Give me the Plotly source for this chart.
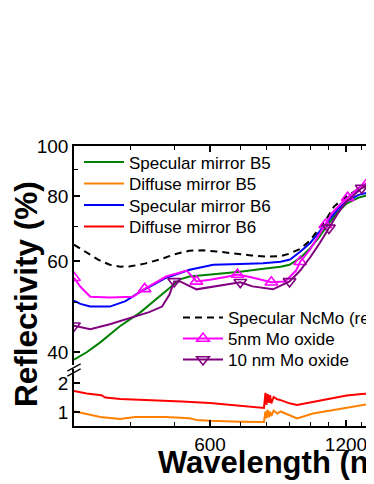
"""Reflectivity of mirror samples, broken y axis (log top, linear bottom)"""

import math

import plotly.graph_objects as go

# =========================================================
# Data
# =========================================================
ref_wl = [300, 320, 340, 360, 380, 400, 430, 465, 500, 540, 580, 620, 680, 740, 800, 860, 900, 950,
          1000, 1050, 1090, 1130, 1200, 1290, 1370, 1400]
ref_r = [64.5, 62.3, 60.3, 59.0, 58.5, 58.6, 59.3, 60.4, 61.8, 62.8, 62.9, 62.6, 62.0, 61.5, 61.2, 61.3,
         62.0, 63.3, 65.8, 69.5, 72.7, 76.5, 79.8, 83.0, 84.9, 85.3]

spec_b5_wl = [300, 320, 343, 379, 420, 465, 515, 540, 580, 620, 700, 780, 860, 900, 950, 1000, 1050, 1100,
              1150, 1200, 1280, 1370, 1400]
spec_b5_r = [38.7, 40.0, 41.8, 44.9, 47.7, 51.3, 55.3, 56.0, 56.3, 56.6, 57.2, 57.9, 58.5, 59.0, 60.8, 63.5,
             67.0, 71.0, 74.5, 77.3, 79.5, 80.8, 81.2]

spec_b6_wl = [300, 310, 326, 360, 390, 420, 450, 480, 541, 610, 700, 786, 860, 902, 950, 1000, 1050, 1100,
              1150, 1200, 1280, 1370, 1400]
spec_b6_r = [50.3, 49.6, 49.0, 49.0, 50.2, 52.3, 54.0, 55.7, 57.7, 59.0, 59.2, 59.4, 59.8, 60.4, 62.5, 65.0,
             68.5, 72.0, 75.5, 78.0, 80.5, 81.7, 82.0]

diff_b5_wl = [300, 326, 343, 379, 410, 480, 540, 560, 600, 700, 790, 796, 800, 805, 810, 815, 820, 830, 845,
              860, 900, 935, 1014, 1100, 1204, 1300, 1380, 1400]
diff_b5_r = [1.03, 0.90, 0.83, 0.76, 0.83, 0.83, 0.79, 0.73, 0.70, 0.67, 0.66, 1.02, 0.78, 1.08, 0.82, 1.02,
             0.86, 1.05, 0.95, 1.02, 0.88, 0.78, 0.95, 1.05, 1.16, 1.24, 1.31, 1.32]

diff_b6_wl = [300, 320, 345, 352, 380, 450, 520, 600, 700, 790, 796, 800, 805, 810, 815, 820, 830, 845, 860,
              900, 935, 1014, 1100, 1204, 1300, 1380, 1400]
diff_b6_r = [1.72, 1.64, 1.58, 1.50, 1.45, 1.41, 1.36, 1.31, 1.22, 1.14, 1.66, 1.25, 1.62, 1.32, 1.58, 1.30,
             1.52, 1.44, 1.41, 1.30, 1.24, 1.34, 1.45, 1.57, 1.62, 1.66, 1.66]

mo5_wl = [300, 310, 326, 360, 405, 430, 480, 533, 560, 600, 650, 690, 740, 790, 820, 880, 930, 950, 1000,
          1040, 1080, 1120, 1180, 1210, 1290, 1340, 1400]
mo5_r = [55.7, 53.5, 51.2, 51.0, 51.2, 53.0, 56.0, 57.5, 54.8, 55.2, 55.9, 56.5, 55.8, 55.0, 54.6, 54.8,
         57.5, 59.8, 63.2, 66.8, 70.5, 74.5, 78.0, 79.5, 83.5, 84.9, 85.5]
mo5_marker_wl = [300, 430, 560, 690, 820, 950, 1080, 1210, 1340]

mo10_wl = [300, 326, 360, 405, 440, 470, 488, 500, 515, 560, 609, 700, 745, 827, 900, 950, 1000, 1050, 1100,
           1150, 1200, 1300, 1400]
mo10_r = [45.0, 44.3, 45.3, 46.7, 47.8, 49.0, 51.7, 54.8, 54.8, 52.9, 53.6, 54.6, 53.6, 52.9, 54.8, 57.5,
          61.0, 65.0, 69.5, 74.0, 78.0, 83.0, 84.5]
mo10_marker_wl = [300, 500, 700, 900, 1100, 1300]

FONT = "Arial, Liberation Sans, sans-serif"

# plot area in page pixels (page has an 8px body margin)
PL, PT, PW, PH = 74, 146, 300, 280


def px_x(x):
    return (x - PL) / PW


def px_y(y):
    return (PT + PH - y) / PH


def markers(wl, r, picks):
    idx = [wl.index(w) for w in picks]
    return [wl[i] for i in idx], [r[i] for i in idx]


fig = go.Figure()

fig.add_trace(go.Scatter(x=spec_b5_wl, y=spec_b5_r, xaxis="x2", yaxis="y2", mode="lines",
                         line=dict(color="#008000", width=2), name="Specular mirror B5", legend="legend"))
fig.add_trace(go.Scatter(x=diff_b5_wl, y=diff_b5_r, xaxis="x", yaxis="y", mode="lines",
                         line=dict(color="#FF8000", width=2), name="Diffuse mirror B5", legend="legend2"))
fig.add_trace(go.Scatter(x=spec_b6_wl, y=spec_b6_r, xaxis="x2", yaxis="y2", mode="lines",
                         line=dict(color="#0000FF", width=2), name="Specular mirror B6", legend="legend3"))
fig.add_trace(go.Scatter(x=diff_b6_wl, y=diff_b6_r, xaxis="x", yaxis="y", mode="lines",
                         line=dict(color="#FF0000", width=2), name="Diffuse mirror B6", legend="legend4"))

fig.add_trace(go.Scatter(x=ref_wl, y=ref_r, xaxis="x2", yaxis="y2", mode="lines",
                         line=dict(color="black", width=2, dash="7px,5px"), name="Specular NcMo (ref)",
                         legend="legend5"))

for wl, r, picks, color, symbol, name, leg in [
    (mo5_wl, mo5_r, mo5_marker_wl, "#FF00FF", "triangle-up-open", "5nm Mo oxide", "legend6"),
    (mo10_wl, mo10_r, mo10_marker_wl, "#800080", "triangle-down-open", "10 nm Mo oxide", "legend7"),
]:
    mx, my = markers(wl, r, picks)
    fig.add_trace(go.Scatter(x=wl, y=r, xaxis="x2", yaxis="y2", mode="lines",
                             line=dict(color=color, width=2), showlegend=False))
    fig.add_trace(go.Scatter(x=mx, y=my, xaxis="x2", yaxis="y2", mode="markers",
                             marker=dict(symbol=symbol, size=11, color=color, line=dict(width=1.6, color=color)),
                             showlegend=False))
    fig.add_trace(go.Scatter(x=[None], y=[None], xaxis="x2", yaxis="y2", mode="lines+markers",
                             line=dict(color=color, width=2),
                             marker=dict(symbol=symbol, size=11, color=color, line=dict(width=1.6, color=color)),
                             name=name, legend=leg))

# =========================================================
# Axes
# =========================================================
lower_top = 57 / 280
upper_bottom = 61 / 280
minor_wl = [300, 400, 500, 700, 800, 900, 1000, 1100, 1300, 1400]
axis_common = dict(showline=True, linecolor="black", linewidth=1.5, ticks="inside", tickcolor="black",
                   ticklen=6, tickwidth=1.5, showgrid=False, zeroline=False, automargin=False,
                   tickfont=dict(family=FONT, size=19, color="black"))

fig.update_layout(
    xaxis=dict(type="log", range=[math.log10(300), math.log10(1384)], anchor="y",
               tickmode="array", tickvals=[600, 1200], ticktext=["600", "1200"],
               minor=dict(tickvals=minor_wl, ticks="inside", ticklen=4, tickcolor="black", tickwidth=1.2),
               **axis_common),
    xaxis2=dict(type="log", matches="x", anchor="y2", side="top", showticklabels=False,
                tickmode="array", tickvals=[600, 1200],
                minor=dict(tickvals=minor_wl, ticks="inside", ticklen=4, tickcolor="black", tickwidth=1.2),
                **axis_common),
    yaxis=dict(domain=[0, lower_top], range=[0.52, 2.48], anchor="x",
               tickmode="array", tickvals=[1, 2], **axis_common),
    yaxis2=dict(domain=[upper_bottom, 1], type="log", range=[math.log10(37.8), 2], anchor="x2",
                tickmode="array", tickvals=[40, 60, 80, 100],
                minor=dict(tickvals=[50, 70, 90], ticks="inside", ticklen=4, tickcolor="black", tickwidth=1.2),
                **axis_common),
)

# axis break marks
for dy in [0.0, -0.018]:
    fig.add_shape(type="line", xref="paper", yref="paper", x0=-0.022, x1=0.022,
                  y0=0.196 + dy, y1=0.222 + dy, line=dict(color="black", width=1.3))

fig.add_annotation(text="<b>Reflectivity (%)</b>", xref="paper", yref="paper", x=px_x(26), y=px_y(294),
                   xanchor="center", yanchor="middle", textangle=-90, showarrow=False,
                   font=dict(family=FONT, size=31.5, color="black"))
fig.add_annotation(text="<b>Wavelength (nm)</b>", xref="paper", yref="paper", x=px_x(156), y=px_y(462),
                   xanchor="left", yanchor="middle", showarrow=False,
                   font=dict(family=FONT, size=31, color="black"))

# one legend per entry so the spacing matches the reference
legend_common = dict(bgcolor="rgba(0,0,0,0)", borderwidth=0, itemwidth=40,
                     font=dict(family=FONT, size=17, color="black"), xanchor="left", yanchor="middle")
legend_rows = {"legend": (79, 162.5), "legend2": (79, 184), "legend3": (79, 205.5), "legend4": (79, 227),
               "legend5": (178, 318), "legend6": (178, 339), "legend7": (178, 360)}
for key, (lx, ly) in legend_rows.items():
    fig.update_layout({key: dict(x=px_x(lx), y=px_y(ly), **legend_common)})

fig.update_layout(
    width=374,
    height=484,
    margin=dict(l=PL - 8, r=8, t=PT - 8, b=484 - (PT - 8) - PH, autoexpand=False),
    plot_bgcolor="white",
    paper_bgcolor="white",
    showlegend=True,
)

fig.write_html("out.html")
